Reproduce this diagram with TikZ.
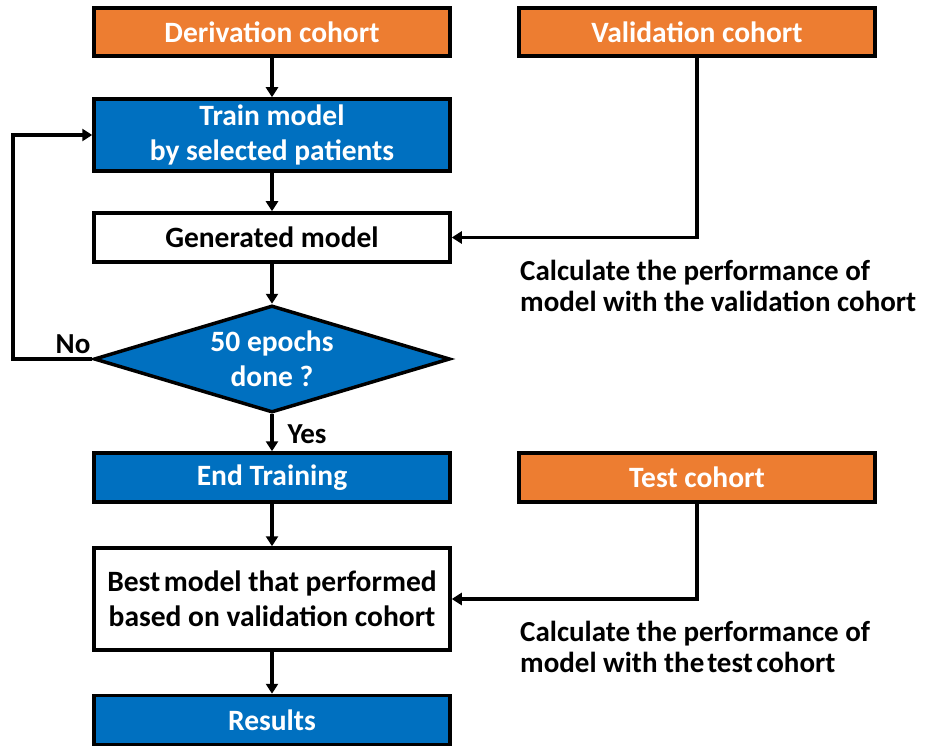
\documentclass[tikz,border=0pt]{standalone}
\usepackage{fontspec}
\setmainfont{Carlito}
\usetikzlibrary{shapes.geometric,arrows.meta}
\definecolor{cohortorange}{HTML}{ED7D31}
\definecolor{stepblue}{HTML}{0070C0}
\begin{document}
\begin{tikzpicture}[x=1pt,y=-1pt,
  box/.style={rectangle,draw=black,line width=3.5pt,minimum width=356pt,inner sep=0pt,
    align=center,font=\fontsize{29.5}{35}\selectfont\bfseries},
  cohort/.style={box,fill=cohortorange,text=white},
  stage/.style={box,fill=stepblue,text=white},
  plain/.style={box,fill=white,text=black},
  decision/.style={diamond,draw=black,line width=3.5pt,fill=stepblue,text=white,
    minimum width=356pt,minimum height=107pt,inner sep=0pt,aspect=3.3,
    align=center,font=\fontsize{29.5}{35}\selectfont\bfseries},
  flow/.style={line width=3.3pt,-{Triangle[length=10pt,width=12pt]}},
  note/.style={align=left,inner sep=0pt,font=\fontsize{29}{31}\selectfont\bfseries},
  tag/.style={inner sep=0pt,font=\fontsize{29}{30}\selectfont\bfseries}]
\useasboundingbox (0,0) rectangle (927,746);
\fill[white] (0,0) rectangle (927,746);

% main column
\node[cohort,minimum height=48pt] (der) at (272,32) {Derivation cohort};
\node[stage,minimum height=72pt] (train) at (272,135) {Train model\\by selected patients};
\node[plain,minimum height=49pt] (gen) at (272,237.5) {Generated model};
\node[decision] (dia) at (272,359) {50 epochs\\done ?};
\node[stage,minimum height=49pt] (endt) at (272,477.5) {End Training};
\node[plain,minimum height=102pt] (best) at (272,599) {Best\hspace{0.12em}model that performed\\based on validation cohort};
\node[stage,minimum height=49pt] (res) at (272,720) {Results};

% side cohorts
\node[cohort,minimum height=48pt] (val) at (697,32) {Validation cohort};
\node[cohort,minimum height=49pt] (test) at (697,477.5) {Test cohort};

% notes
\node[note,anchor=west] (valnote) at (520,286) {Calculate the performance of\\model with the validation cohort};
\node[note,anchor=west] (testnote) at (520,647) {Calculate the performance of\\model with the\hspace{0.1em}test\hspace{0.12em}cohort};

% connectors
\draw[flow] (der) -- (train);
\draw[flow] (train) -- (gen);
\draw[flow] (gen) -- (dia);
\draw[flow] (dia) -- node[tag,right,xshift=14pt,yshift=-1pt] (yes) {Yes} (endt);
\draw[flow] (endt) -- (best);
\draw[flow] (best) -- (res);
\coordinate (loop) at (13,359);
\draw[flow] (dia.west) -- (loop) |- (train.west);
\node[tag] (no) at (73,344) {No};
\draw[flow] (val.south) |- (gen.east);
\draw[flow] (test.south) |- (best.east);
\end{tikzpicture}
\end{document}
